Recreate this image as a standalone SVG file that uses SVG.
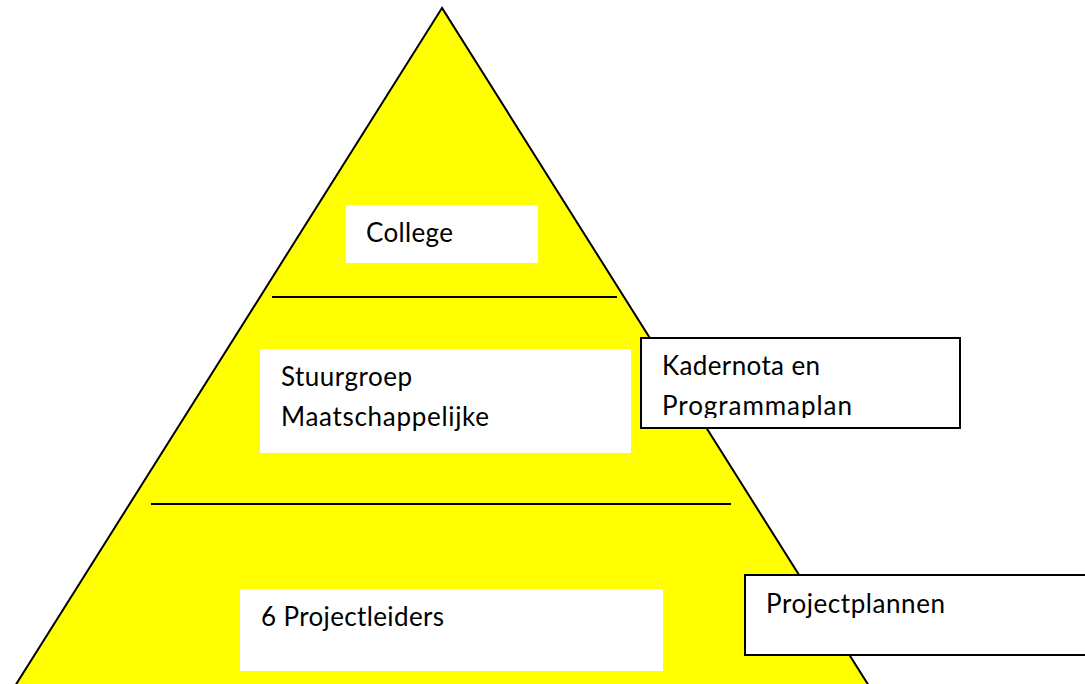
<svg xmlns="http://www.w3.org/2000/svg" width="1085" height="684" viewBox="0 0 1085 684">
<style>
.bg{fill:#ffffff}
.tri{fill:#ffff00;stroke:#000;stroke-width:2}
.sep{stroke:#000;stroke-width:2}
.box{fill:#ffffff;stroke:none}
.obox{fill:#ffffff;stroke:#000;stroke-width:2}
.t{font-family:Lato,"Open Sans","Liberation Sans",sans-serif;font-size:26px;fill:#000}
</style>
<defs>
<clipPath id="kclip"><rect x="641" y="338" width="319" height="80"/></clipPath>
</defs>
<rect class="bg" x="0" y="0" width="1085" height="684"/>
<g id="pyramid">
<polygon class="tri" points="442,8 15,686 869,686"/>
</g>
<g id="connectors">
<line class="sep" x1="272" y1="297" x2="617" y2="297"/>
<line class="sep" x1="151" y1="504" x2="731" y2="504"/>
</g>
<g id="college">
<rect class="box" x="346" y="205" width="192" height="58"/>
<text class="t" x="366" y="242" textLength="87">College</text>
</g>
<g id="stuurgroep">
<rect class="box" x="260" y="349" width="371" height="104"/>
<text class="t" x="281" y="386" textLength="131">Stuurgroep</text>
<text class="t" x="281" y="426" textLength="208">Maatschappelijke</text>
</g>
<g id="kadernota">
<rect class="obox" x="641" y="338" width="319" height="90"/>
<g clip-path="url(#kclip)">
<text class="t" x="662" y="375" textLength="158">Kadernota en</text>
<text class="t" x="662" y="415" textLength="190">Programmaplan</text>
</g>
</g>
<g id="projectleiders">
<rect class="box" x="240" y="589" width="423" height="82"/>
<text class="t" x="261" y="626" textLength="183">6 Projectleiders</text>
</g>
<g id="projectplannen">
<rect class="obox" x="745" y="575" width="345" height="80"/>
<text class="t" x="766" y="613" textLength="179">Projectplannen</text>
</g>
</svg>
